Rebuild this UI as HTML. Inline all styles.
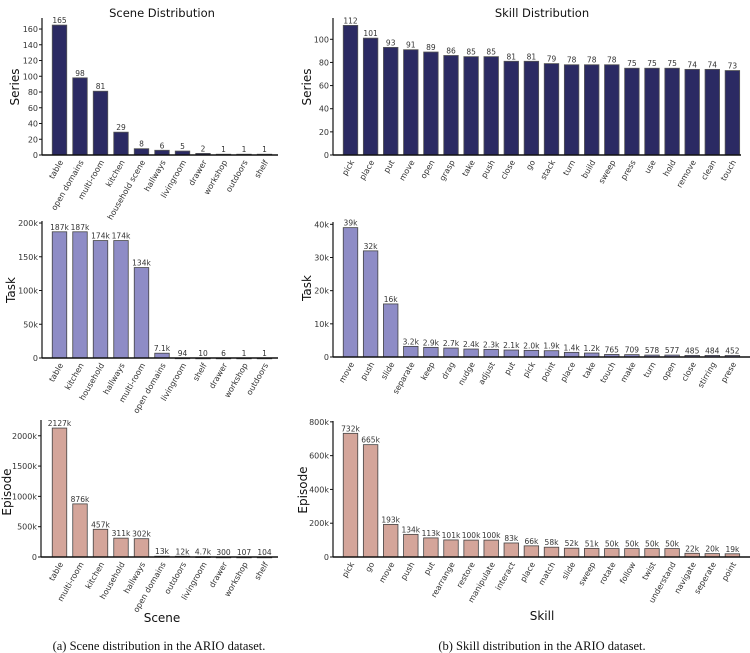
<!DOCTYPE html>
<html><head><meta charset="utf-8"><style>
html,body{margin:0;padding:0;background:#fff;}
svg{display:block;font-family:"DejaVu Sans","Liberation Sans",sans-serif;}
.cap{font-family:"Liberation Serif",serif;font-size:12.5px;fill:#111;}
</style></head><body>
<svg id="fig" width="750" height="653" viewBox="0 0 750 653" xmlns="http://www.w3.org/2000/svg">
<text x="162" y="17" font-size="11.5" text-anchor="middle" fill="#111">Scene Distribution</text>
<text x="542" y="17" font-size="11.5" text-anchor="middle" fill="#111">Skill Distribution</text>
<text x="162" y="622" font-size="12" text-anchor="middle" fill="#111">Scene</text>
<text x="542" y="620" font-size="12" text-anchor="middle" fill="#111">Skill</text>
<text x="159" y="650" class="cap" text-anchor="middle">(a) Scene distribution in the ARIO dataset.</text>
<text x="542" y="650" class="cap" text-anchor="middle">(b) Skill distribution in the ARIO dataset.</text>
</svg>
<script>
const sceneSeriesCats = ["table","open domains","multi-room","kitchen","household scene","hallways","livingroom","drawer","workshop","outdoors","shelf"];
const sceneSeriesVals = [165,98,81,29,8,6,5,2,1,1,1];
const sceneSeriesTicks = [0,20,40,60,80,100,120,140,160];
const skillSeriesCats = ["pick","place","put","move","open","grasp","take","push","close","go","stack","turn","build","sweep","press","use","hold","remove","clean","touch"];
const skillSeriesVals = [112,101,93,91,89,86,85,85,81,81,79,78,78,78,75,75,75,74,74,73];
const skillSeriesTicks = [0,20,40,60,80,100];
const sceneTaskCats = ["table","kitchen","household","hallways","multi-room","open domains","livingroom","shelf","drawer","workshop","outdoors"];
const sceneTaskVals = [187000,187000,174000,174000,134000,7100,94,10,6,1,1];
const sceneTaskTicks = [0,50000,100000,150000,200000];
const skillTaskCats = ["move","push","slide","separate","keep","drag","nudge","adjust","put","pick","point","place","take","touch","make","turn","open","close","stirring","prese"];
const skillTaskVals = [39000,32000,16000,3200,2900,2700,2400,2300,2100,2000,1900,1400,1200,765,709,578,577,485,484,452];
const skillTaskTicks = [0,10000,20000,30000,40000];
const sceneEpCats = ["table","multi-room","kitchen","household","hallways","open domains","outdoors","livingroom","drawer","workshop","shelf"];
const sceneEpVals = [2127000,876000,457000,311000,302000,13000,12000,4700,300,107,104];
const sceneEpTicks = [0,500000,1000000,1500000,2000000];
const skillEpCats = ["pick","go","move","push","put","rearrange","restore","manipulate","interact","place","match","slide","sweep","rotate","follow","twist","understand","navigate","seperate","point"];
const skillEpVals = [732000,665000,193000,134000,113000,101000,100000,100000,83000,66000,58000,52000,51000,50000,50000,50000,50000,22000,20000,19000];
const skillEpTicks = [0,200000,400000,600000,800000];

const NS = "http://www.w3.org/2000/svg";
const svg = document.getElementById("fig");
function mk(tag, attrs, parent){const e=document.createElementNS(NS,tag);for(const k in attrs)e.setAttribute(k,attrs[k]);(parent||svg).appendChild(e);return e;}
function fmt(v){if(v<1000)return String(v);const k=v/1000;return k<10?k.toFixed(1)+"k":Math.round(k)+"k";}

function panel(p, cats, vals, ticks){
  const g = mk("g",{});
  
  
  const y = v => p.y0 - (v/p.dmax)*(p.y0-p.ytop);
  const x = i => p.cx0 + i*p.step;
  ticks.forEach(t=>{
    const ty=y(t);
    const tl = mk("line",{x1:p.ax-3,x2:p.ax,y1:ty,y2:ty,stroke:"#111","stroke-width":1},g);
    
    
    const tt = mk("text",{x:p.ax-4,y:ty+3,"font-size":8,"text-anchor":"end",fill:"#333"},g);
    tt.textContent = t===0?"0":(t>=1000?(t/1000)+"k":String(t));
    
    
  });
  vals.forEach((v,i)=>{
    const cx=x(i), top=y(v);
    const r = mk("rect",{x:cx-p.bw/2,y:top,width:p.bw,height:Math.max(p.y0-top,0.8),fill:p.color,stroke:p.edge,"stroke-width":0.8},g);
    
    
    const vt = mk("text",{x:cx,y:top-2,"font-size":7.5,"text-anchor":"middle",fill:"#333"},g);
    vt.textContent = fmt(v);
    
    
    const ct = mk("text",{transform:`translate(${cx+4},${p.y0+7}) rotate(-60)`,"font-size":8,"text-anchor":"end",fill:"#333"},g);
    ct.textContent = cats[i];
    
    
  });
  const ya = mk("line",{x1:p.ax,x2:p.ax,y1:p.ytop,y2:p.y0,stroke:"#111","stroke-width":1.2},g);
  
  
  const xa = mk("line",{x1:p.ax,x2:p.xend,y1:p.y0,y2:p.y0,stroke:"#111","stroke-width":1.4},g);
  
  
  const yt = mk("text",{transform:`translate(${p.lx},${p.ly}) rotate(-90)`,"font-size":12,"text-anchor":"middle",fill:"#111"},g);
  yt.textContent = p.ylabel;
  
  
}
const NAVY="#2b2a63", LAV="#8e8cc6", SAL="#d4a59a";
panel({name:"scene-series-chart",ax:42,xend:278,y0:155,ytop:18,dmax:174,cx0:59.5,step:20.5,bw:14.5,color:NAVY,edge:"#555",lx:19,ly:87,ylabel:"Series"},sceneSeriesCats,sceneSeriesVals,sceneSeriesTicks);
panel({name:"skill-series-chart",ax:333,xend:741,y0:155,ytop:18,dmax:118.4,cx0:350.5,step:20.1,bw:14.5,color:NAVY,edge:"#555",lx:311,ly:87,ylabel:"Series"},skillSeriesCats,skillSeriesVals,skillSeriesTicks);
panel({name:"scene-task-chart",ax:42,xend:278,y0:358,ytop:221,dmax:203000,cx0:59.5,step:20.5,bw:14.5,color:LAV,edge:"#444",lx:15,ly:290,ylabel:"Task"},sceneTaskCats,sceneTaskVals,sceneTaskTicks);
panel({name:"skill-task-chart",ax:333,xend:750,y0:357,ytop:222,dmax:40700,cx0:350.5,step:20.1,bw:14.5,color:LAV,edge:"#444",lx:311,ly:288,ylabel:"Task"},skillTaskCats,skillTaskVals,skillTaskTicks);
panel({name:"scene-episode-chart",ax:41,xend:278,y0:557,ytop:420,dmax:2260000,cx0:59.5,step:20.5,bw:14.5,color:SAL,edge:"#444",lx:11,ly:492,ylabel:"Episode"},sceneEpCats,sceneEpVals,sceneEpTicks);
panel({name:"skill-episode-chart",ax:333,xend:750,y0:557,ytop:421,dmax:805000,cx0:350.5,step:20.1,bw:14.5,color:SAL,edge:"#444",lx:307,ly:490,ylabel:"Episode"},skillEpCats,skillEpVals,skillEpTicks);
</script>
</body></html>
